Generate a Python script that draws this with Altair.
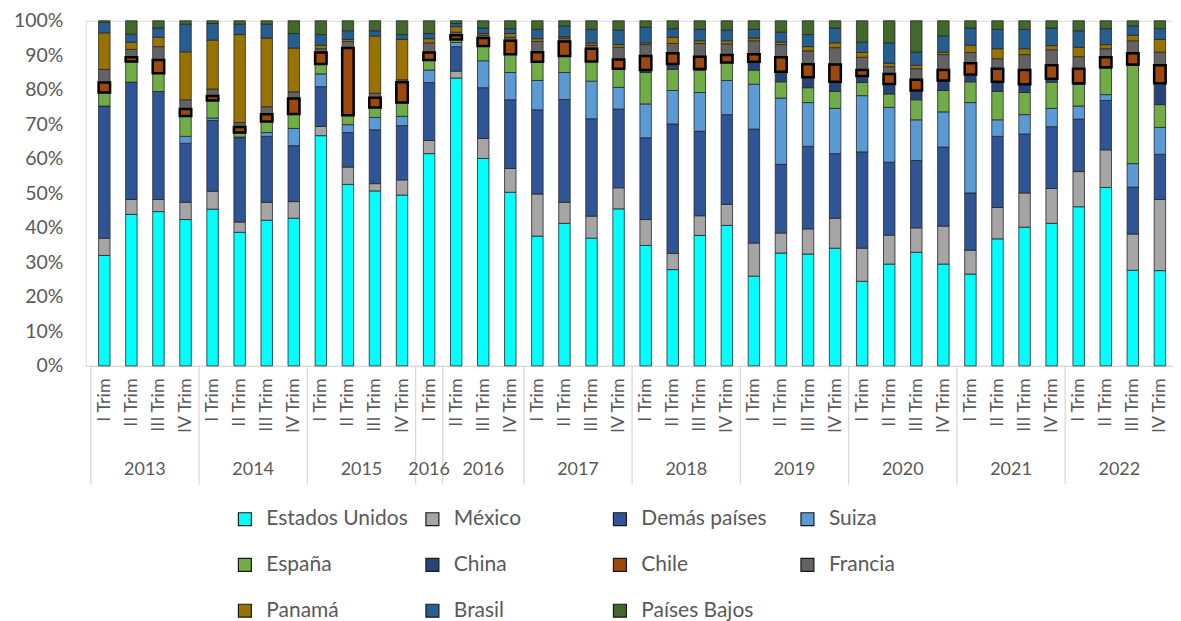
import altair as alt
import pandas as pd

series = ["Estados Unidos", "México", "Demás países", "Suiza", "España", "China",
          "Chile", "Francia", "Panamá", "Brasil", "Países Bajos"]
colors = ["#00FFFF", "#A5A5A5", "#2F5597", "#5B9BD5", "#70AD47", "#264478",
          "#9E480E", "#636363", "#997300", "#255E91", "#43682B"]

year_labels = ["2013", "2014", "2015", "2016", "2016", "2017", "2018", "2019", "2020", "2021", "2022"]
group_sizes = [4, 4, 4, 1, 3, 4, 4, 4, 4, 4, 4]
quarter_labels = (["I Trim", "II Trim", "III Trim", "IV Trim"] * 3 + ["I Trim"]
                  + ["II Trim", "III Trim", "IV Trim"]
                  + ["I Trim", "II Trim", "III Trim", "IV Trim"] * 6)

# shares (%) per period, 40 periods
estados_unidos = [32.0, 43.9, 44.7, 42.4, 45.4, 38.7, 42.2, 42.8, 66.7, 52.6, 50.7, 49.5, 61.5,
                  83.4, 60.1, 50.3, 37.6, 41.3, 37.0, 45.5, 34.9, 27.9, 37.8, 40.7,
                  26.0, 32.7, 32.4, 34.1, 24.5, 29.5, 32.9, 29.5, 26.6, 36.8, 40.2, 41.3,
                  46.1, 51.7, 27.7, 27.6]
mexico = [5.0, 4.3, 3.5, 5.0, 5.2, 3.0, 5.2, 4.8, 2.7, 5.0, 2.1, 4.4, 3.8,
          2.0, 5.8, 6.9, 12.2, 6.1, 6.4, 6.1, 7.5, 4.7, 5.7, 6.1,
          9.6, 5.8, 7.3, 8.7, 9.6, 8.4, 7.1, 11.0, 6.9, 9.1, 9.9, 10.1,
          10.2, 10.9, 10.5, 20.6]
demas_paises = [38.3, 34.0, 31.3, 17.1, 20.5, 24.4, 19.1, 16.2, 11.5, 10.0, 15.6, 15.7, 16.8,
                7.1, 14.7, 19.9, 24.4, 29.8, 28.2, 22.8, 23.7, 37.5, 24.5, 26.0,
                33.0, 19.9, 23.9, 18.7, 27.9, 21.1, 19.5, 22.9, 16.6, 20.6, 17.1, 17.9,
                15.2, 14.3, 13.6, 13.1]
suiza = [0.0, 0.0, 0.0, 2.0, 0.7, 0.2, 1.1, 5.0, 3.7, 2.3, 3.6, 2.7, 3.6,
         1.2, 7.8, 7.9, 8.5, 7.8, 10.9, 6.3, 9.8, 9.7, 11.2, 9.9,
         13.0, 19.2, 12.7, 13.1, 16.3, 15.9, 11.8, 10.2, 26.2, 4.8, 5.6, 5.3,
         3.8, 1.7, 6.8, 7.8]
espana = [3.9, 6.0, 5.3, 5.9, 5.1, 1.3, 3.2, 4.2, 2.9, 2.7, 2.9, 4.0, 2.9,
          0.9, 4.3, 5.3, 5.4, 4.8, 5.7, 5.4, 9.1, 6.1, 6.5, 5.2,
          4.1, 4.7, 4.3, 4.9, 3.8, 3.9, 5.8, 6.2, 6.0, 8.2, 6.4, 7.6,
          6.3, 7.7, 28.5, 6.6]
china = [0.0, 0.0, 0.0, 0.0, 0.0, 0.0, 0.0, 0.0, 0.0, 0.0, 0.0, 0.0, 0.0,
         0.0, 0.0, 0.0, 0.0, 0.0, 0.0, 0.0, 0.7, 1.6, 0.3, 0.0,
         2.4, 2.9, 3.0, 2.8, 1.9, 2.9, 2.7, 2.9, 2.1, 2.8, 2.4, 1.0,
         0.3, 0.2, 0.2, 6.2]
chile = [2.9, 1.2, 3.8, 2.0, 1.3, 1.6, 2.1, 4.5, 3.3, 19.5, 2.8, 5.9, 2.2,
         1.2, 2.3, 3.9, 2.8, 4.2, 3.7, 2.7, 4.1, 3.1, 3.6, 2.2,
         2.2, 4.2, 3.8, 5.0, 1.7, 2.9, 3.1, 3.0, 3.3, 3.8, 4.1, 3.9,
         4.2, 2.9, 3.3, 5.2]
francia = [3.8, 2.3, 3.9, 2.7, 2.0, 1.3, 2.2, 1.9, 1.1, 1.9, 1.3, 0.7, 2.8,
           0.9, 0.8, 1.0, 3.1, 1.0, 1.0, 3.5, 3.3, 2.8, 3.8, 3.2,
           3.9, 3.7, 3.9, 4.9, 3.7, 2.1, 3.2, 4.5, 3.1, 2.9, 4.5, 4.5,
           3.5, 2.5, 3.6, 3.8]
panama = [10.6, 2.1, 2.7, 13.9, 14.2, 25.5, 19.9, 12.7, 1.0, 0.6, 16.6, 11.7, 1.2,
          1.6, 0.5, 1.1, 0.8, 0.4, 0.7, 0.8, 0.5, 1.8, 0.8, 0.9,
          0.8, 0.7, 1.2, 1.4, 1.4, 1.0, 1.0, 0.7, 2.1, 2.9, 1.7, 1.2,
          2.7, 1.2, 1.6, 3.7]
brasil = [3.0, 2.3, 2.7, 8.0, 4.8, 3.0, 4.0, 4.2, 3.1, 2.5, 1.5, 1.4, 1.5,
          0.9, 1.6, 1.4, 2.7, 3.1, 3.9, 4.2, 4.5, 2.5, 3.3, 3.1,
          2.5, 2.9, 3.5, 4.3, 3.0, 5.9, 3.8, 4.7, 5.0, 5.6, 5.6, 5.1,
          4.8, 4.6, 2.7, 3.1]
paises_bajos = [0.5, 3.9, 2.1, 1.0, 0.8, 1.0, 1.0, 3.7, 4.0, 2.9, 2.9, 4.0, 3.7,
                0.8, 2.1, 2.3, 2.5, 1.5, 2.5, 2.7, 1.9, 2.3, 2.5, 2.7,
                2.5, 3.3, 4.0, 2.1, 6.2, 6.4, 9.1, 4.4, 2.1, 2.5, 2.5, 2.1,
                2.9, 2.3, 1.5, 2.3]

values = [estados_unidos, mexico, demas_paises, suiza, espana, china,
          chile, francia, panama, brasil, paises_bajos]

rows = []
for k, (name, vals) in enumerate(zip(series, values)):
    for i, v in enumerate(vals):
        rows.append({"idx": i, "series": name, "order": k, "value": v})
df = pd.DataFrame(rows)

# year groups
sep_rows, year_rows = [], []
start = 0
for lab, n in zip(year_labels, group_sizes):
    sep_rows.append({"pos": start - 0.5})
    year_rows.append({"year": lab, "mid": start + (n - 1) / 2})
    start += n
sep_df = pd.DataFrame(sep_rows)
year_df = pd.DataFrame(year_rows)

W, H = 1090, 346
TXT = "#595959"
FONT = "Lato"

xscale = alt.Scale(domain=[-0.5, 39.3], nice=False, zero=False)
yscale = alt.Scale(domain=[0, 100], nice=False)
label_expr = "[" + ",".join("'" + q + "'" for q in quarter_labels) + "][datum.value]"

x_axis = alt.Axis(values=list(range(40)), labelExpr=label_expr, labelAngle=270,
                  labelOverlap=False, labelFlush=False, labelPadding=12,
                  ticks=False, grid=False, domainColor="#D9D9D9", domainWidth=1.3,
                  labelFontSize=18, labelColor=TXT, labelFont=FONT, title=None)
y_axis = alt.Axis(values=list(range(0, 101, 10)), labelExpr="datum.value + '%'",
                  domain=False, ticks=False, grid=False, labelPadding=23,
                  minExtent=78, maxExtent=78, labelFontSize=19.5,
                  labelColor=TXT, labelFont=FONT, title=None)


def xenc(field):
    return alt.X(field, scale=xscale, axis=x_axis, title=None)


def yenc(field):
    return alt.Y(field, scale=yscale, axis=y_axis, title=None)


color_scale = alt.Scale(domain=series, range=colors)
legend = alt.Legend(orient="none", legendX=149, legendY=489, columns=4, direction="horizontal",
                    title=None, symbolType="square", symbolSize=169,
                    symbolStrokeColor="#1a1a1a", symbolStrokeWidth=1.2, symbolOpacity=1,
                    labelFontSize=21, labelFont=FONT, labelColor=TXT,
                    labelOffset=11, rowPadding=24, columnPadding=14,
                    gridAlign="all", labelLimit=260)

base = alt.Chart(df).transform_stack(
    stack="value", groupby=["idx"], sort=[alt.SortField("order", order="ascending")],
    as_=["y0", "y1"])

bars = base.mark_bar(size=11.5, stroke="#262626", strokeWidth=0.8).encode(
    x=xenc("idx:Q"), y=yenc("y0:Q"), y2="y1:Q",
    color=alt.Color("series:N", scale=color_scale, sort=series, legend=legend))

chile_layer = base.transform_filter(alt.datum.series == "Chile").mark_bar(
    size=11.5, stroke="black", strokeWidth=2.5).encode(
    x=xenc("idx:Q"), y=yenc("y0:Q"), y2="y1:Q",
    color=alt.Color("series:N", scale=color_scale, sort=series, legend=legend))

seps = alt.Chart(sep_df).mark_rule(color="#D9D9D9", strokeWidth=1.3).encode(
    x=xenc("pos:Q"), y=alt.value(H), y2=alt.value(H + 119))

years = alt.Chart(year_df).mark_text(font=FONT, fontSize=18, color=TXT, baseline="middle").encode(
    x=xenc("mid:Q"), y=alt.value(H + 104), text="year:N")

chart = alt.layer(bars, chile_layer, seps, years).properties(
    width=W, height=H, padding={"top": 2, "left": 0, "right": 0, "bottom": 0}
).configure_view(stroke=None).configure(font=FONT)

chart.save("out.html", embed_options={"renderer": "svg", "actions": False})
